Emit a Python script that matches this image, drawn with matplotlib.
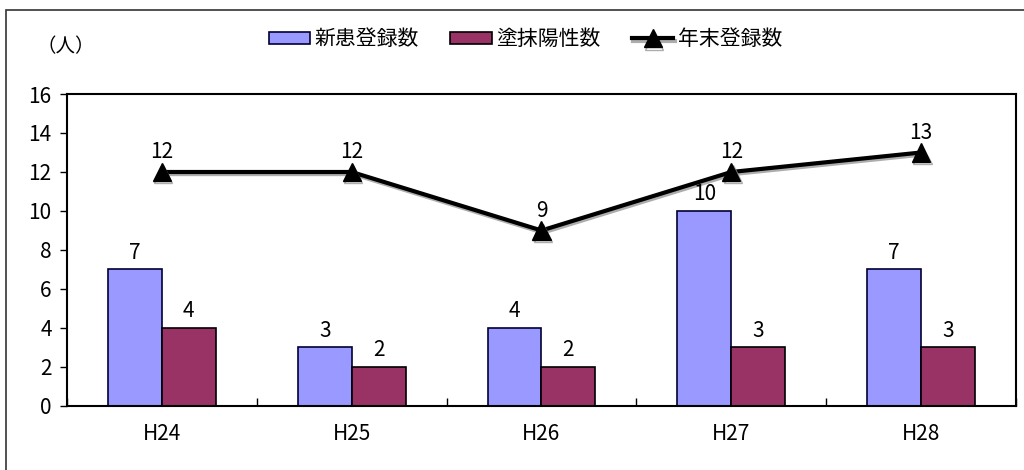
import numpy as np
import matplotlib.pyplot as plt
import matplotlib.patheffects as pe
from matplotlib.patches import Rectangle

plt.rcParams['font.family'] = ['Noto Sans CJK JP', 'DejaVu Sans']

years = ['H24', 'H25', 'H26', 'H27', 'H28']
new_patients = [7, 3, 4, 10, 7]
smear_positive = [4, 2, 2, 3, 3]
year_end = [12, 12, 9, 12, 13]

color_new = '#9999FF'
color_smear = '#993366'

fig = plt.figure(figsize=(10.24, 4.7), dpi=100)
ax = fig.add_axes([0.0654, 0.1362, 0.9268, 0.6638])

# outer frame (only left and top edges fall inside the image)
fig.patches.append(Rectangle((0.006, -0.1), 1.2, 1.078, transform=fig.transFigure,
                             fill=False, edgecolor='#333333', linewidth=1.2))

x = np.arange(len(years))
w = 0.284
b1 = ax.bar(x - w / 2, new_patients, w, color=color_new, edgecolor='#000033',
            linewidth=1.2, label='新患登録数', zorder=2)
b2 = ax.bar(x + w / 2, smear_positive, w, color=color_smear, edgecolor='black',
            linewidth=1.2, label='塗抹陽性数', zorder=2)

line, = ax.plot(x, year_end, color='black', linewidth=3, marker='^', markersize=13,
                label='年末登録数', zorder=3,
                path_effects=[pe.SimpleLineShadow(offset=(1, -1.5), shadow_color='#999999', alpha=0.8),
                              pe.Normal()])

for xi, v in zip(x, new_patients):
    ax.text(xi - w / 2, v + 0.3, str(v), ha='center', va='bottom', fontsize=15)
for xi, v in zip(x, smear_positive):
    ax.text(xi + w / 2, v + 0.3, str(v), ha='center', va='bottom', fontsize=15)
for xi, v in zip(x, year_end):
    ax.text(xi, v + 0.45, str(v), ha='center', va='bottom', fontsize=15)

ax.set_xlim(-0.5, 4.5)
ax.set_ylim(0, 16)
ax.set_yticks(range(0, 17, 2))
ax.set_xticks(x)
ax.set_xticklabels(years)
ax.set_xticks(np.arange(-0.5, 4.6, 1), minor=True)
ax.tick_params(axis='x', which='major', length=0, pad=12, labelsize=15)
ax.tick_params(axis='x', which='minor', direction='in', length=6, width=1)
ax.tick_params(axis='y', direction='out', length=5, width=1, labelsize=15, pad=6)
for s in ax.spines.values():
    s.set_linewidth(1.5)

fig.text(0.036, 0.9, '（人）', fontsize=14, ha='left', va='center')

ax.legend(handles=[b1, b2, line], loc='lower center', bbox_to_anchor=(0.483, 1.08), ncol=3,
          frameon=False, fontsize=15, handlelength=2.0, handleheight=0.55,
          columnspacing=1.5, handletextpad=0.2)

fig.savefig('out.png', dpi=100)
